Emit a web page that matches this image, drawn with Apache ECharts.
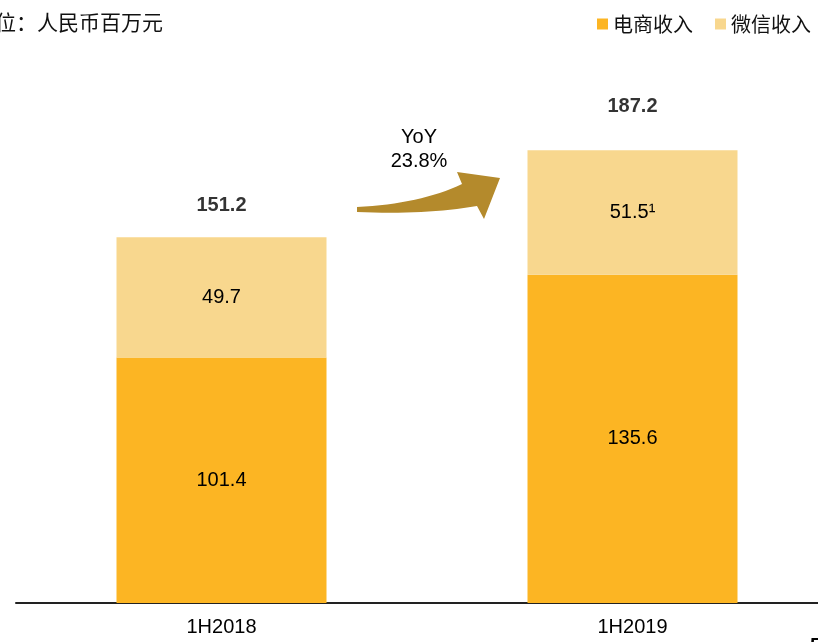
<!DOCTYPE html>
<html>

<head>
    <meta charset="utf-8">
    <title>电商收入 / 微信收入</title>
    <script src="https://cdn.jsdelivr.net/npm/echarts@6/dist/echarts.min.js"></script>
    <style>
        html, body { margin: 0; padding: 0; background: #fff; }
        #chart_box { width: 818px; height: 642px; }
    </style>
</head>

<body>
    <div id="chart_box"></div>

    <script>
        // 数据
        var periods = ['1H2018', '1H2019'];
        var ecommerce = [101.4, 135.6];   // 电商收入
        var wechat = [49.7, 51.5];        // 微信收入
        var totals = [151.2, 187.2];
        var wechatNotes = ['', '¹'];

        var latin = '"Liberation Sans", Arial, sans-serif';
        var cjk = '"Noto Sans CJK SC", sans-serif';

        var yoy = ((totals[1] / totals[0] - 1) * 100).toFixed(1) + '%';

        // 弯箭头（装饰）：二次曲线转成折线点
        function quad(p0, c, p1, n) {
            var pts = [];
            for (var i = 0; i <= n; i++) {
                var t = i / n;
                var a = (1 - t) * (1 - t), b = 2 * (1 - t) * t, d = t * t;
                pts.push([a * p0[0] + b * c[0] + d * p1[0], a * p0[1] + b * c[1] + d * p1[1]]);
            }
            return pts;
        }
        var arrowPts = quad([357, 207], [420, 204], [462, 184], 16)
            .concat([[457, 172], [500, 178], [484, 219]])
            .concat(quad([477, 206], [425, 215], [357, 212], 16));

        var myChart = echarts.init(document.getElementById('chart_box'));

        var option = {
            animation: false,
            title: {
                text: '单位：人民币百万元',
                left: -26,
                top: 12,
                padding: 0,
                textStyle: {
                    fontFamily: cjk,
                    fontSize: 21,
                    fontWeight: 'normal',
                    color: '#111'
                }
            },
            legend: {
                data: ['电商收入', '微信收入'],
                right: 7,
                top: 14,
                padding: 0,
                icon: 'rect',
                itemWidth: 11,
                itemHeight: 11,
                itemGap: 22,
                textStyle: {
                    fontFamily: cjk,
                    fontSize: 20,
                    color: '#111'
                }
            },
            grid: {
                left: 16,
                width: 822,
                top: 119,
                bottom: 39,
                containLabel: false,
                outerBoundsMode: 'none'
            },
            xAxis: {
                type: 'category',
                data: periods,
                axisTick: { show: false },
                axisLine: {
                    lineStyle: { color: '#222', width: 2 }
                },
                axisLabel: {
                    margin: 14,
                    fontFamily: latin,
                    fontSize: 20,
                    color: '#000'
                }
            },
            yAxis: {
                type: 'value',
                min: 0,
                max: 200,
                show: false,
                splitLine: { show: false }
            },
            series: [{
                name: '电商收入',
                type: 'bar',
                stack: 'rev',
                barWidth: 210,
                data: ecommerce,
                itemStyle: { color: '#FCB523' },
                label: {
                    show: true,
                    position: 'inside',
                    fontFamily: latin,
                    fontSize: 20,
                    color: '#000'
                }
            }, {
                name: '微信收入',
                type: 'bar',
                stack: 'rev',
                barWidth: 210,
                data: wechat,
                itemStyle: { color: '#F8D78E' },
                label: {
                    show: true,
                    position: 'inside',
                    fontFamily: latin,
                    fontSize: 20,
                    color: '#000',
                    formatter: function (p) {
                        return p.value + wechatNotes[p.dataIndex];
                    }
                }
            }, {
                // 合计
                name: '合计',
                type: 'scatter',
                symbolSize: 1,
                itemStyle: { color: 'rgba(0,0,0,0)' },
                data: totals.map(function (v, i) {
                    return {
                        value: v,
                        label: { distance: i == 0 ? 21 : 33 }
                    };
                }),
                label: {
                    show: true,
                    position: 'top',
                    fontFamily: latin,
                    fontSize: 20,
                    fontWeight: 'bold',
                    color: '#000'
                },
                z: 5
            }],
            graphic: [{
                type: 'polygon',
                shape: { points: arrowPts },
                style: { fill: '#B48A2C' }
            }, {
                type: 'text',
                x: 419,
                y: 125,
                style: {
                    text: 'YoY\n' + yoy,
                    font: '20px ' + latin,
                    lineHeight: 24,
                    fill: '#000',
                    textAlign: 'center'
                }
            }, {
                type: 'text',
                x: 810,
                y: 636,
                style: {
                    text: '5',
                    font: 'bold 20px ' + latin,
                    fill: '#000'
                }
            }]
        };

        myChart.setOption(option);
    </script>
</body>

</html>
